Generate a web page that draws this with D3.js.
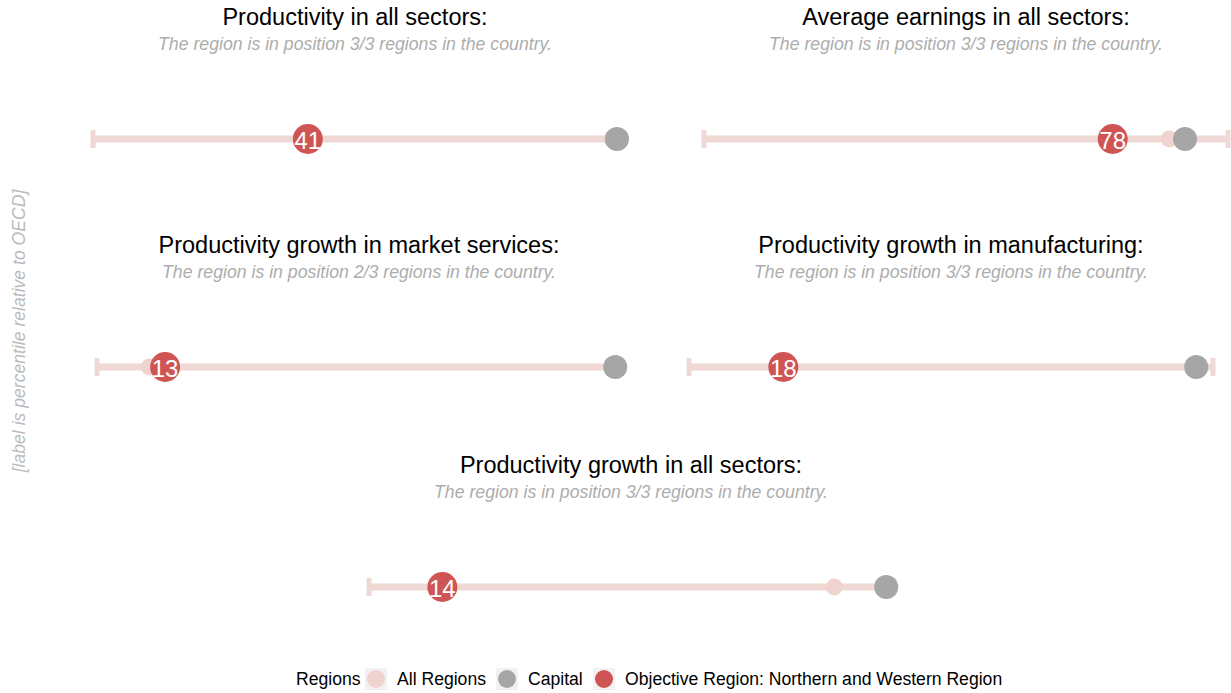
<!DOCTYPE html>
<html>
<head>
<meta charset="utf-8">
<script src="https://cdn.jsdelivr.net/npm/d3@7"></script>
<style>
  body { margin: 0; background: #fff; }
  svg { display: block; font-family: "Liberation Sans", Arial, Helvetica, sans-serif; }
</style>
</head>
<body>
<svg id="drawing_region"></svg>
<script>
// chart data
const titles = [
    "Productivity in all sectors:",
    "Average earnings in all sectors:",
    "Productivity growth in market services:",
    "Productivity growth in manufacturing:",
    "Productivity growth in all sectors:"
];
const ranks = ["3/3", "3/3", "2/3", "3/3", "3/3"];
const objectiveValues = [41, 78, 13, 18, 14];
const capitalValues = [100, 91.8, 98.9, 96.8, 98.7];
const allRegionsValues = [99, 88.8, 10, 96, 88.8];
const legendLabels = ["All Regions", "Capital", "Objective Region: Northern and Western Region"];

const colors = {
    range: '#f0d8d4',
    all: '#efd3ce',
    capital: '#a6a6a6',
    objective: '#cf5454'
};

// panel layout (center x of each range line, title y)
const layout = [
    {cx: 355, ty: 17},
    {cx: 966, ty: 17},
    {cx: 359, ty: 245},
    {cx: 951, ty: 245},
    {cx: 631, ty: 465}
];
const halfWidth = 262;

const svg = d3.select('#drawing_region')
    .attr('width', 1231)
    .attr('height', 693);

titles.forEach((t, i) => {
    const p = layout[i];
    const x = d3.scaleLinear().domain([0, 100]).range([p.cx - halfWidth, p.cx + halfWidth]);
    const lineY = p.ty + 122;
    const g = svg.append('g');

    g.append('text')
        .attr('x', p.cx).attr('y', p.ty)
        .attr('text-anchor', 'middle').attr('dominant-baseline', 'central')
        .attr('font-size', '23.5px').attr('fill', '#000')
        .text(t);

    g.append('text')
        .attr('x', p.cx).attr('y', p.ty + 27)
        .attr('text-anchor', 'middle').attr('dominant-baseline', 'central')
        .attr('font-size', '17.7px').attr('font-style', 'italic').attr('fill', '#adadad')
        .text(`The region is in position ${ranks[i]} regions in the country.`);

    // range line with end caps
    g.append('line')
        .attr('x1', x(0)).attr('x2', x(100))
        .attr('y1', lineY).attr('y2', lineY)
        .attr('stroke', colors.range).attr('stroke-width', 7);

    g.selectAll('.cap')
        .data([0, 100])
        .enter()
        .append('line')
        .attr('x1', d => x(d)).attr('x2', d => x(d))
        .attr('y1', lineY - 9).attr('y2', lineY + 9)
        .attr('stroke', colors.range).attr('stroke-width', 5);

    g.append('circle')
        .attr('cx', x(allRegionsValues[i])).attr('cy', lineY)
        .attr('r', 8.5).attr('fill', colors.all);

    g.append('circle')
        .attr('cx', x(capitalValues[i])).attr('cy', lineY)
        .attr('r', 12).attr('fill', colors.capital);

    g.append('circle')
        .attr('cx', x(objectiveValues[i])).attr('cy', lineY)
        .attr('r', 15).attr('fill', colors.objective);

    g.append('text')
        .attr('x', x(objectiveValues[i])).attr('y', lineY + 1)
        .attr('text-anchor', 'middle').attr('dominant-baseline', 'central')
        .attr('font-size', '24px').attr('fill', '#fff')
        .text(objectiveValues[i]);
});

// y axis label
svg.append('text')
    .attr('transform', 'translate(19, 331) rotate(-90)')
    .attr('text-anchor', 'middle').attr('dominant-baseline', 'central')
    .attr('font-size', '17.6px').attr('font-style', 'italic').attr('fill', '#bbbbbb')
    .text('[label is percentile relative to OECD]');

// legend
const legend = svg.append('g');
const legendY = 679;
legend.append('text')
    .attr('x', 296).attr('y', legendY)
    .attr('dominant-baseline', 'central').attr('font-size', '17.6px')
    .text('Regions');

const keyColors = [colors.all, colors.capital, colors.objective];
const keyX = [376, 507, 604];
legendLabels.forEach((lab, i) => {
    legend.append('rect')
        .attr('x', keyX[i] - 11).attr('y', legendY - 11)
        .attr('width', 22).attr('height', 22)
        .attr('fill', '#f2f2f2');
    legend.append('circle')
        .attr('cx', keyX[i]).attr('cy', legendY)
        .attr('r', 9).attr('fill', keyColors[i]);
    legend.append('text')
        .attr('x', keyX[i] + 21).attr('y', legendY)
        .attr('dominant-baseline', 'central').attr('font-size', '17.6px')
        .text(lab);
});
</script>
</body>
</html>
